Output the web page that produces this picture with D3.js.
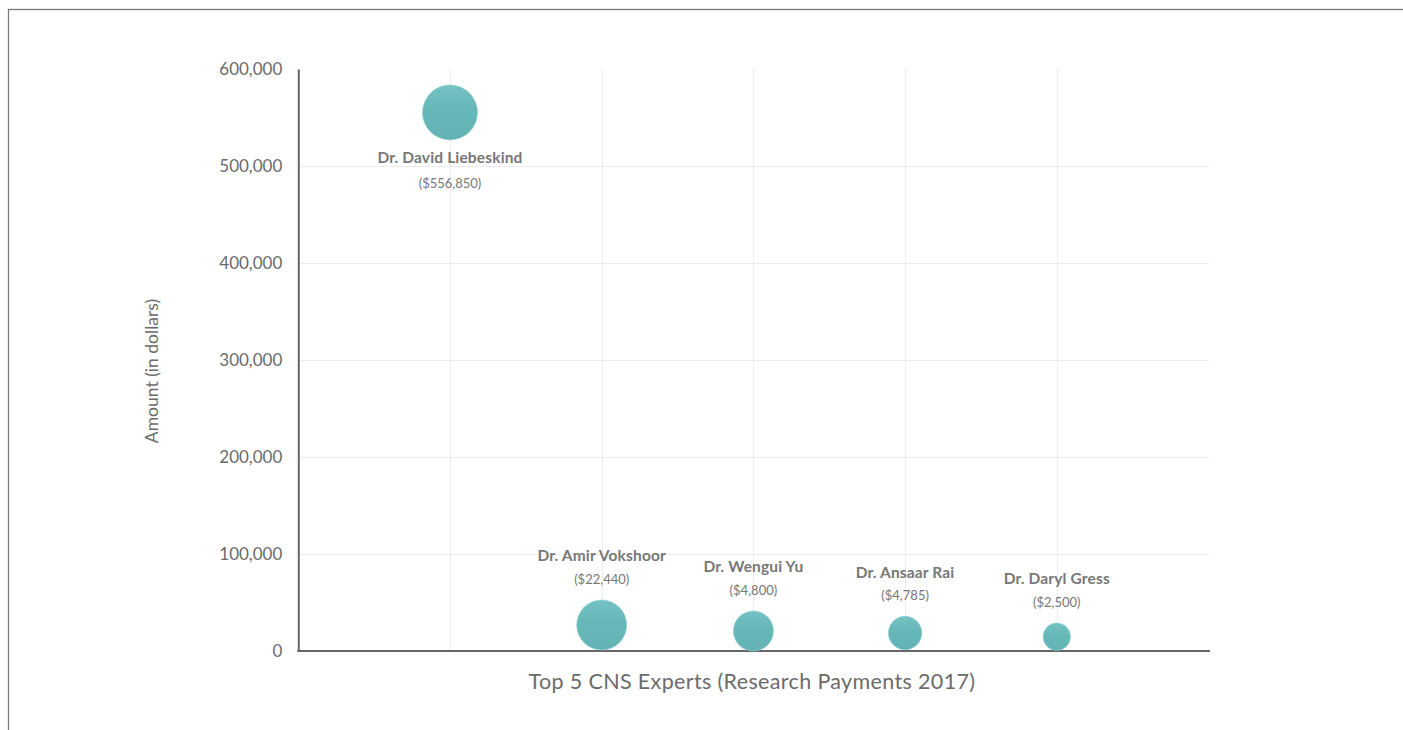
<!DOCTYPE html>
<html>
<head>
<meta charset="utf-8">
<script src="https://cdn.jsdelivr.net/npm/d3@7"></script>
<style>
  html, body { margin: 0; padding: 0; background: #fff; }
  svg { display: block; }
</style>
</head>
<body>
<svg id="chart" width="1403" height="730"></svg>
<script>
// ---- data ----
const names = ["Dr. David Liebeskind", "Dr. Amir Vokshoor", "Dr. Wengui Yu", "Dr. Ansaar Rai", "Dr. Daryl Gress"];
const amounts = [556850, 22440, 4800, 4785, 2500];
const plotValues = [555200, 26800, 20600, 18500, 14700];   // plotted y position of bubble centres
const bubbleSizes = [100, 82.6, 52.9, 36.9, 24.8];          // relative bubble area
const yTicks = [0, 100000, 200000, 300000, 400000, 500000, 600000];
const xTitle = "Top 5 CNS Experts (Research Payments 2017)";
const yTitle = "Amount (in dollars)";

(function () {
const svg = d3.select("#chart");
const font = "Lato, 'Open Sans', sans-serif";

// frame
svg.append("rect").attr("x", 8.5).attr("y", 9.5).attr("width", 1500).attr("height", 800)
  .attr("fill", "none").attr("stroke", "#7a7a7a").attr("stroke-width", 1.3);

const pL = 299, pR = 1209, pT = 69, pB = 651;
const x = d3.scaleLinear().domain([0, 6]).range([298.3, 298.3 + 6 * 151.7]);
const y = d3.scaleLinear().domain([0, 600000]).range([pB, pT]);
const r = d3.scaleSqrt().domain([0, 100]).range([0, 27.5]);

// gradient
const defs = svg.append("defs");
const g = defs.append("linearGradient").attr("id", "bub").attr("x1", 0).attr("y1", 0).attr("x2", 0).attr("y2", 1);
g.append("stop").attr("offset", "0%").attr("stop-color", "#74c3c4");
g.append("stop").attr("offset", "45%").attr("stop-color", "#66b7b8");
g.append("stop").attr("offset", "100%").attr("stop-color", "#63b3b4");

// horizontal grid (not at top)
svg.append("g").selectAll("line").data(yTicks.filter(d => d > 0 && d < 600000)).join("line")
  .attr("x1", pL).attr("x2", pR)
  .attr("y1", d => Math.round(y(d)) + 0.5).attr("y2", d => Math.round(y(d)) + 0.5)
  .attr("stroke", "#ececec").attr("stroke-width", 1);

// vertical grid
svg.append("g").selectAll("line").data(names).join("line")
  .attr("x1", (d, i) => Math.round(x(i + 1)) + 0.5).attr("x2", (d, i) => Math.round(x(i + 1)) + 0.5)
  .attr("y1", pT).attr("y2", pB)
  .attr("stroke", "#ececec").attr("stroke-width", 1);

// y axis
const yAxis = svg.append("g").attr("transform", `translate(${pL - 0.7},0)`)
  .call(d3.axisLeft(y).tickValues(yTicks).tickSize(0).tickPadding(16).tickFormat(d3.format(",")));
yAxis.select(".domain").attr("stroke", "#666").attr("stroke-width", 2);
yAxis.selectAll("text").attr("font-family", font).attr("font-size", 17).attr("fill", "#6b6b6b");

// x axis line
svg.append("line").attr("x1", pL - 1.7).attr("x2", pR + 1).attr("y1", pB).attr("y2", pB)
  .attr("stroke", "#666").attr("stroke-width", 2);

// bubbles
const data = names.map((n, i) => ({ name: n, amount: amounts[i], v: plotValues[i], s: bubbleSizes[i], i }));
svg.append("g").selectAll("circle").data(data).join("circle")
  .attr("cx", d => x(d.i + 1)).attr("cy", d => y(d.v)).attr("r", d => r(d.s))
  .attr("fill", "url(#bub)").attr("stroke", "#8fd0d1").attr("stroke-width", 0.6);

// labels
const lab = svg.append("g").selectAll("g").data(data).join("g");
lab.append("text")
  .attr("x", d => x(d.i + 1))
  .attr("y", d => d.i === 0 ? y(d.v) + r(d.s) + 18 : y(d.v) - r(d.s) - 44)
  .attr("dy", "0.35em").attr("text-anchor", "middle")
  .attr("font-family", font).attr("font-weight", "bold").attr("font-size", 15.5).attr("fill", "#777")
  .attr("letter-spacing", 0.15)
  .text(d => d.name);
lab.append("text")
  .attr("x", d => x(d.i + 1))
  .attr("y", d => d.i === 0 ? y(d.v) + r(d.s) + 43 : y(d.v) - r(d.s) - 21)
  .attr("dy", "0.35em").attr("text-anchor", "middle")
  .attr("font-family", font).attr("font-size", 13).attr("fill", "#777")
  .text(d => "($" + d3.format(",")(d.amount) + ")");

// titles
svg.append("text").attr("x", 752).attr("y", 681).attr("dy", "0.35em").attr("text-anchor", "middle")
  .attr("font-family", font).attr("font-size", 21.5).attr("letter-spacing", 0.35).attr("fill", "#6b6b6b").text(xTitle);
svg.append("text").attr("transform", "translate(152,371) rotate(-90)").attr("dy", "0.35em")
  .attr("text-anchor", "middle").attr("font-family", font).attr("font-size", 17.5).attr("fill", "#6b6b6b")
  .text(yTitle);
})();
</script>
</body>
</html>
